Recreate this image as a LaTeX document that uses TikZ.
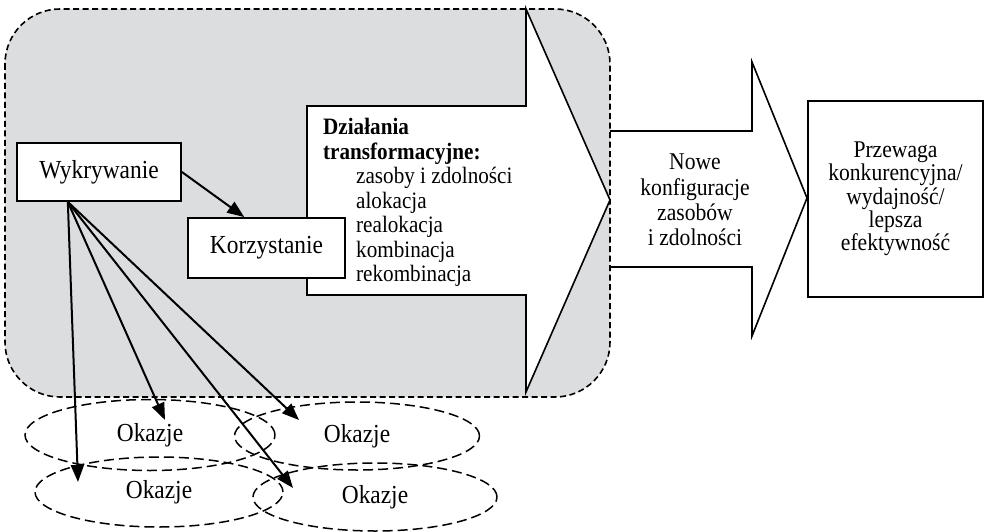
\documentclass[tikz,border=0pt]{standalone}
\usepackage{fontspec}
\setmainfont{Liberation Serif}[FakeStretch=0.9]
\usetikzlibrary{arrows.meta,shapes.geometric,calc}
\definecolor{regiongray}{RGB}{220,221,223}
\begin{document}
\begin{tikzpicture}[x=1pt,y=-1pt,
  boxnode/.style={draw, line width=1.8pt, fill=white, rectangle, inner sep=0pt, font=\fontsize{26}{28}\selectfont},
  okazja/.style={draw, ellipse, dash pattern=on 10pt off 5pt, line width=1.5pt, inner sep=0pt, font=\fontsize{26}{28}\selectfont},
  arr/.style={line width=2pt, -{Triangle[length=17pt,width=13pt]}},
  arrowshape/.style={draw, line width=1.6pt, fill=white, line join=miter},
  regionborder/.style={rounded corners=55pt, dash pattern=on 6pt off 3.5pt, line width=1.6pt},
]
\useasboundingbox (0,0) rectangle (985,532);

% shaded region
\fill[regiongray, rounded corners=55pt] (5,9) rectangle (610,397);

% big arrow
\draw[arrowshape] (307,106) -- (526,106) -- (526,9) -- (610,200) -- (526,392) -- (526,295) -- (307,295) -- cycle;

% second arrow (open on the left)
\fill[white] (610,131) -- (752,131) -- (752,62) -- (807,198) -- (752,336) -- (752,267) -- (610,267) -- cycle;
\draw[line width=1.6pt, line join=miter] (610,131) -- (752,131) -- (752,62) -- (807,198) -- (752,336) -- (752,267) -- (610,267);

% region border
\draw[regionborder] (5,9) rectangle (610,397);

% result box
\node[boxnode, minimum width=175pt, minimum height=196pt, align=center, font=\fontsize{24}{23.3}\selectfont] (p) at (895.5,199)
  {Przewaga\\konkurencyjna/\\wydajność/\\lepsza\\efektywność};

% texts in arrows
\node[align=center, inner sep=0pt, font=\fontsize{24}{25.3}\selectfont] (nowe) at (695,200)
  {Nowe\\konfiguracje\\zasobów\\i zdolności};
\node[anchor=north west, align=left, inner sep=0pt, font=\fontsize{23.5}{24.5}\selectfont] (dz) at (323,118)
  {\textbf{Działania}\\\textbf{transformacyjne:}\\\hspace*{33pt}zasoby i zdolności\\\hspace*{33pt}alokacja\\\hspace*{33pt}realokacja\\\hspace*{33pt}kombinacja\\\hspace*{33pt}rekombinacja};

% boxes
\node[boxnode, minimum width=164pt, minimum height=58pt] (w) at (99,172) {Wykrywanie};
\node[boxnode, minimum width=157pt, minimum height=60pt] (k) at (266.5,248) {Korzystanie};

% opportunities
\node[okazja, minimum width=250pt, minimum height=71pt] (o1) at (150,435) {Okazje};
\node[okazja, minimum width=248pt, minimum height=70pt] (o2) at (159,492) {Okazje};
\node[okazja, minimum width=245pt, minimum height=68pt] (o3) at (357,436) {Okazje};
\node[okazja, minimum width=244pt, minimum height=68pt] (o4) at (375,497) {Okazje};

% arrows
\coordinate (src) at ($(w.south west)!0.312!(w.south east)$);
\coordinate (t1) at (78,482);
\coordinate (t2) at (165,420);
\coordinate (t3) at (293,488);
\coordinate (t4) at (299,420);
\draw[arr] (w.east) -- ($(k.north west)!0.36!(k.north east)$);
\draw[arr] (src) -- (t1);
\draw[arr] (src) -- (t2);
\draw[arr] (src) -- (t3);
\draw[arr] (src) -- (t4);
\end{tikzpicture}
\end{document}
